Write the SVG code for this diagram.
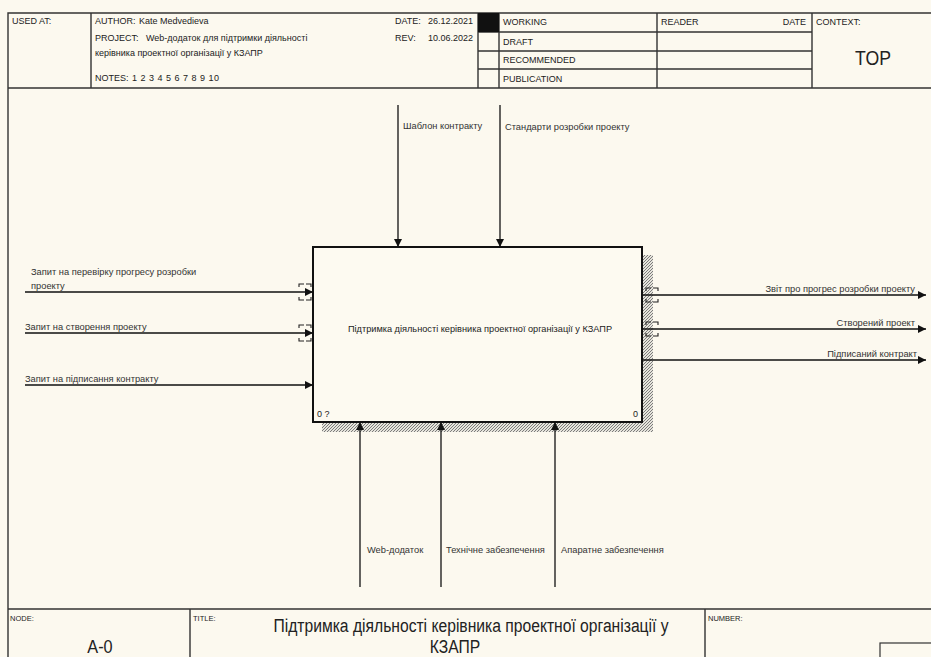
<svg xmlns="http://www.w3.org/2000/svg" width="931" height="657" viewBox="0 0 931 657">
<defs>
<style>
text{font-family:"Liberation Sans",Arial,sans-serif;fill:#222}
.h{font-size:9px}
.lbl{font-size:9.3px;fill:#333}
.frame{fill:none;stroke:#333;stroke-width:1.4}
.conn{fill:none;stroke:#111;stroke-width:1.3}
.tun{fill:none;stroke:#222;stroke-width:1.1}
</style>
<pattern id="hatch" width="3" height="3" patternUnits="userSpaceOnUse">
<rect width="3" height="3" fill="#e6e4dc"/>
<path d="M0,3 L3,0" stroke="#707070" stroke-width="0.9"/>
</pattern>
<marker id="arr" viewBox="0 0 10 10" refX="10" refY="5" markerWidth="9" markerHeight="8" markerUnits="userSpaceOnUse" orient="auto">
<path d="M0,0 L10,5 L0,10 z" fill="#111"/>
</marker>
</defs>
<rect width="931" height="657" fill="#fcf9ef"/>

<g id="header">
<path class="frame" d="M8,657 V13 H931 M8,88 H931 M91,13 V88 M478,13 V88 M499,13 V88 M657,13 V88 M812,13 V88 M478,32 H812 M478,51 H812 M478,69 H812"/>
<rect x="478" y="13" width="21" height="19" fill="#111"/>
<text class="h" x="12" y="24">USED AT:</text>
<text class="h" x="95" y="24">AUTHOR:</text>
<text class="h" x="139" y="24">Kate Medvedieva</text>
<text class="h" x="95" y="41">PROJECT:</text>
<text class="h" x="146" y="41">Web-додаток для підтримки діяльності</text>
<text class="h" x="95" y="56">керівника проектної організації у КЗАПР</text>
<text class="h" x="95" y="81">NOTES:</text>
<text class="h" x="132" y="81" textLength="87" lengthAdjust="spacing">1 2 3 4 5 6 7 8 9 10</text>
<text class="h" x="395" y="24">DATE:</text>
<text class="h" x="473" y="24" text-anchor="end">26.12.2021</text>
<text class="h" x="395" y="41">REV:</text>
<text class="h" x="473" y="41" text-anchor="end">10.06.2022</text>
<text class="h" x="503" y="25">WORKING</text>
<text class="h" x="503" y="45">DRAFT</text>
<text class="h" x="503" y="63">RECOMMENDED</text>
<text class="h" x="503" y="82">PUBLICATION</text>
<text class="h" x="661" y="25">READER</text>
<text class="h" x="806" y="25" text-anchor="end">DATE</text>
<text class="h" x="816" y="25">CONTEXT:</text>
<text x="873" y="65" font-size="20" text-anchor="middle" textLength="36" lengthAdjust="spacingAndGlyphs">TOP</text>
</g>

<g id="node-A0">
<rect x="642" y="255" width="11" height="177" fill="url(#hatch)"/>
<rect x="322" y="422" width="331" height="10" fill="url(#hatch)"/>
<rect x="313" y="247" width="329" height="175" fill="#fdfaf1" stroke="#111" stroke-width="2"/>
<text x="480" y="332" font-size="9.2" text-anchor="middle" fill="#333">Підтримка діяльності керівника проектної організації у КЗАПР</text>
<text x="317" y="417" font-size="9" fill="#444">0 ?</text>
<text x="633" y="417" font-size="9" fill="#444">0</text>
</g>

<g id="connectors">
<line class="conn" x1="398" y1="105" x2="398" y2="247" marker-end="url(#arr)"/>
<line class="conn" x1="500" y1="105" x2="500" y2="247" marker-end="url(#arr)"/>
<line class="conn" x1="360" y1="587" x2="360" y2="422" marker-end="url(#arr)"/>
<line class="conn" x1="441" y1="587" x2="441" y2="422" marker-end="url(#arr)"/>
<line class="conn" x1="555" y1="587" x2="555" y2="422" marker-end="url(#arr)"/>
<line class="conn" x1="25" y1="292" x2="313" y2="292" marker-end="url(#arr)"/>
<line class="conn" x1="25" y1="333" x2="313" y2="333" marker-end="url(#arr)"/>
<line class="conn" x1="25" y1="385" x2="313" y2="385" marker-end="url(#arr)"/>
<line class="conn" x1="642" y1="295" x2="926" y2="295" marker-end="url(#arr)"/>
<line class="conn" x1="642" y1="329" x2="926" y2="329" marker-end="url(#arr)"/>
<line class="conn" x1="642" y1="360" x2="926" y2="360" marker-end="url(#arr)"/>
<path class="tun" d="M304,284 H299 V287 M299,297 V300 H304 M306,284 H311 V287 M311,297 V300 H306"/>
<path class="tun" d="M304,325 H299 V328 M299,338 V341 H304 M306,325 H311 V328 M311,338 V341 H306"/>
<path class="tun" d="M651,288 H646 V291 M646,299 V302 H651 M653,288 H658 V291 M658,299 V302 H653"/>
<path class="tun" d="M651,322 H646 V325 M646,333 V336 H651 M653,322 H658 V325 M658,333 V336 H653"/>
<text class="lbl" x="403" y="129">Шаблон контракту</text>
<text class="lbl" x="505" y="130">Стандарти розробки проекту</text>
<text class="lbl" x="367" y="553">Web-додаток</text>
<text class="lbl" x="446" y="553">Технічне забезпечення</text>
<text class="lbl" x="561" y="553">Апаратне забезпечення</text>
<text class="lbl" x="31" y="275">Запит на перевірку прогресу розробки</text>
<text class="lbl" x="31" y="289">проекту</text>
<text class="lbl" x="25" y="330">Запит на створення проекту</text>
<text class="lbl" x="25" y="382">Запит на підписання контракту</text>
<text class="lbl" x="915" y="292" text-anchor="end">Звіт про прогрес розробки проекту</text>
<text class="lbl" x="915" y="326" text-anchor="end">Створений проект</text>
<text class="lbl" x="917" y="357" text-anchor="end">Підписаний контракт</text>
</g>

<g id="footer">
<path class="frame" d="M8,609 H931 M190,609 V657 M705,609 V657"/>
<rect x="880" y="643" width="60" height="20" fill="none" stroke="#333" stroke-width="1.2"/>
<text x="10" y="621" font-size="7.5">NODE:</text>
<text transform="translate(100,653) scale(0.88,1)" font-size="18.5" text-anchor="middle">A-0</text>
<text x="193" y="621" font-size="7.5">TITLE:</text>
<text transform="translate(471,632) scale(0.87,1)" font-size="18" text-anchor="middle">Підтримка діяльності керівника проектної організації у</text>
<text transform="translate(455,652.5) scale(0.87,1)" font-size="18" text-anchor="middle">КЗАПР</text>
<text x="708" y="621" font-size="7.5">NUMBER:</text>
</g>
</svg>
